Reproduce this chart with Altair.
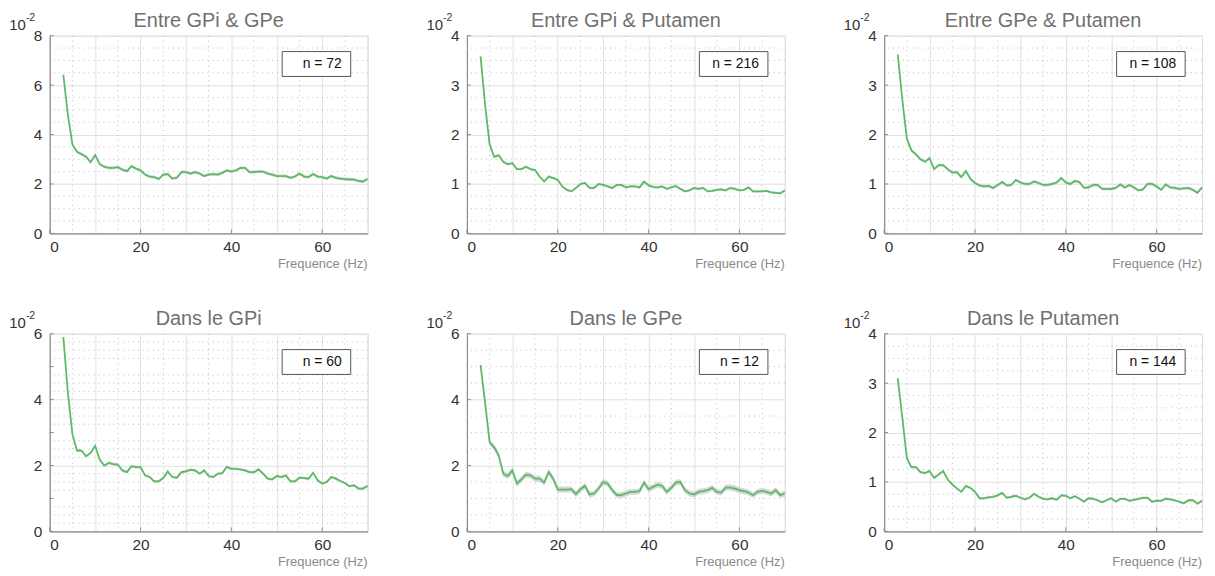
import altair as alt
import pandas as pd

FREQ = list(range(3, 71))

TITLES = ["Entre GPi & GPe", "Entre GPi & Putamen", "Entre GPe & Putamen",
          "Dans le GPi", "Dans le GPe", "Dans le Putamen"]
N_LABELS = ["n = 72", "n = 216", "n = 108", "n = 60", "n = 12", "n = 144"]
Y_MAX = [8, 4, 4, 6, 6, 4]
Y_STEP = [2, 1, 1, 1, 2, 1]
SEM = [0.06, 0.025, 0.03, 0.04, 0.09, 0.025]
X_LABELS = [0, 20, 40, 60]
X_MAJOR = [0, 10, 20, 30, 40, 50, 60, 70]
X_MINOR = [5, 15, 25, 35, 45, 55, 65]

P1 = [6.42, 4.8, 3.6, 3.3, 3.2, 3.1, 2.88, 3.17, 2.8, 2.7, 2.65, 2.65, 2.68, 2.58, 2.52, 2.72,
      2.62, 2.55, 2.38, 2.3, 2.28, 2.2, 2.38, 2.4, 2.22, 2.25, 2.48, 2.48, 2.42, 2.48, 2.42,
      2.32, 2.38, 2.4, 2.38, 2.45, 2.55, 2.5, 2.55, 2.65, 2.65, 2.48, 2.48, 2.5, 2.5, 2.42,
      2.38, 2.32, 2.32, 2.32, 2.25, 2.3, 2.42, 2.3, 2.28, 2.4, 2.3, 2.28, 2.22, 2.32, 2.25,
      2.22, 2.2, 2.18, 2.18, 2.12, 2.1, 2.2]
P2 = [3.58, 2.6, 1.8, 1.55, 1.58, 1.45, 1.4, 1.42, 1.3, 1.3, 1.35, 1.3, 1.28, 1.15, 1.05, 1.15,
      1.12, 1.08, 0.95, 0.88, 0.85, 0.92, 1.0, 1.02, 0.92, 0.92, 1.0, 0.98, 0.95, 0.92, 0.98,
      0.98, 0.93, 0.95, 0.95, 0.93, 1.05, 0.97, 0.94, 0.93, 0.95, 0.9, 0.93, 0.96, 0.9, 0.85,
      0.87, 0.92, 0.9, 0.92, 0.85, 0.86, 0.88, 0.89, 0.87, 0.92, 0.9, 0.87, 0.88, 0.93, 0.85,
      0.85, 0.85, 0.86, 0.83, 0.82, 0.81, 0.87]
P3 = [3.62, 2.7, 1.92, 1.68, 1.6, 1.5, 1.45, 1.52, 1.3, 1.38, 1.38, 1.3, 1.23, 1.24, 1.14, 1.26,
      1.1, 1.02, 0.97, 0.95, 0.96, 0.92, 0.98, 1.04, 0.97, 0.98, 1.08, 1.03, 1.0, 1.0, 1.05,
      1.02, 0.98, 0.98, 1.0, 1.03, 1.12, 1.03, 1.0, 1.06, 1.04, 0.92, 0.93, 0.98, 0.98, 0.9,
      0.9, 0.9, 0.92, 0.99, 0.93, 0.98, 0.93, 0.87, 0.89, 1.0, 1.0, 0.95, 0.88, 0.99, 0.93,
      0.92, 0.9, 0.91, 0.92, 0.88, 0.82, 0.93]
P4 = [5.9, 4.2, 2.95, 2.45, 2.45, 2.28, 2.38, 2.6, 2.18, 2.0, 2.08, 2.04, 2.03, 1.85, 1.8, 1.98,
      1.95, 1.95, 1.7, 1.65, 1.52, 1.52, 1.62, 1.82, 1.65, 1.63, 1.8, 1.82, 1.87, 1.85, 1.75,
      1.85, 1.68, 1.65, 1.75, 1.77, 1.96, 1.9, 1.9, 1.88, 1.85, 1.8, 1.8, 1.88, 1.75, 1.6,
      1.58, 1.68, 1.65, 1.7, 1.52, 1.52, 1.63, 1.62, 1.6, 1.78, 1.55, 1.45, 1.5, 1.65, 1.6,
      1.53, 1.47, 1.37, 1.4, 1.3, 1.3, 1.38]
P5 = [5.05, 3.9, 2.7, 2.55, 2.3, 1.75, 1.68, 1.85, 1.45, 1.58, 1.72, 1.7, 1.6, 1.6, 1.48, 1.8,
      1.6, 1.27, 1.27, 1.27, 1.28, 1.13, 1.28, 1.38, 1.12, 1.15, 1.3, 1.5, 1.45, 1.25, 1.1,
      1.1, 1.15, 1.2, 1.2, 1.22, 1.48, 1.28, 1.35, 1.42, 1.38, 1.2, 1.32, 1.48, 1.5, 1.25,
      1.15, 1.12, 1.2, 1.22, 1.25, 1.32, 1.2, 1.18, 1.33, 1.33, 1.3, 1.25, 1.22, 1.18, 1.1,
      1.2, 1.23, 1.2, 1.15, 1.25, 1.1, 1.15]
P6 = [3.1, 2.3, 1.48, 1.3, 1.3, 1.2, 1.18, 1.22, 1.08, 1.15, 1.22, 1.05, 0.95, 0.87, 0.8, 0.92,
      0.88, 0.8, 0.67, 0.67, 0.69, 0.7, 0.73, 0.78, 0.68, 0.7, 0.72, 0.68, 0.65, 0.68, 0.76,
      0.7, 0.66, 0.65, 0.67, 0.64, 0.73, 0.72, 0.67, 0.71, 0.66, 0.6, 0.67, 0.66, 0.63, 0.59,
      0.63, 0.67, 0.6, 0.66, 0.66, 0.62, 0.64, 0.66, 0.68, 0.68, 0.6, 0.62, 0.62, 0.66, 0.65,
      0.63, 0.6, 0.57, 0.63, 0.63, 0.56, 0.62]
SERIES = [P1, P2, P3, P4, P5, P6]

W, H = 320, 199
FONT = "Liberation Sans"
GREEN = "#5cba68"
GRID = "#e0e0e0"
MINOR = "#bdbdbd"
AXIS = "#8c8c8c"


def panel(i):
    ymax, step = Y_MAX[i], Y_STEP[i]
    minor = step / 4
    y_major = [k * step for k in range(int(ymax / step) + 1)]
    y_minor = [k * minor for k in range(1, int(round(ymax / minor))) if k % 4 != 0]

    df = pd.DataFrame({"f": FREQ, "v": SERIES[i]})
    df["lo"] = df["v"] - SEM[i]
    df["hi"] = df["v"] + SEM[i]

    xs = alt.Scale(domain=[0, 70], nice=False, zero=False)
    ys = alt.Scale(domain=[0, ymax], nice=False)

    x_axis = alt.Axis(values=X_MAJOR, labelExpr="datum.value % 20 == 0 ? datum.label : ''",
                      grid=True, gridColor=GRID, gridWidth=1, ticks=False,
                      domainColor=AXIS, domainWidth=1.2, labelFontSize=15.5, labelColor="#333333",
                      labelFont=FONT, labelPadding=6, title=None)
    y_axis = alt.Axis(values=y_major, grid=True, gridColor=GRID, gridWidth=1, ticks=False,
                      domainColor=AXIS, domainWidth=1.2, labelFontSize=15.5, labelColor="#333333",
                      labelFont=FONT, labelPadding=8, title=None)

    band = alt.Chart(df).mark_area(color="#bdbdbd", opacity=0.6).encode(
        x=alt.X("f:Q", scale=xs, axis=x_axis),
        y=alt.Y("lo:Q", scale=ys, axis=y_axis),
        y2="hi:Q",
    )
    line = alt.Chart(df).mark_line(color=GREEN, strokeWidth=1.8).encode(
        x=alt.X("f:Q", scale=xs), y=alt.Y("v:Q", scale=ys)
    )

    vminor = alt.Chart(pd.DataFrame({"x": X_MINOR})).mark_rule(
        color=MINOR, strokeDash=[1, 4], strokeWidth=1
    ).encode(x=alt.X("x:Q", scale=xs))
    hminor = alt.Chart(pd.DataFrame({"y": y_minor})).mark_rule(
        color=MINOR, strokeDash=[1, 4], strokeWidth=1
    ).encode(y=alt.Y("y:Q", scale=ys))

    xticks = alt.Chart(pd.DataFrame({"x": X_LABELS})).mark_rule(color=AXIS).encode(
        x=alt.X("x:Q", scale=xs), y=alt.value(H), y2=alt.value(H - 4)
    )
    yticks = alt.Chart(pd.DataFrame({"y": y_major})).mark_rule(color=AXIS).encode(
        y=alt.Y("y:Q", scale=ys), x=alt.value(0), x2=alt.value(4)
    )

    info = pd.DataFrame({"t": [TITLES[i]], "n": [N_LABELS[i]], "e": ["10"], "p": ["-2"],
                         "xl": ["Frequence (Hz)"]})
    title = alt.Chart(info).mark_text(align="center", baseline="alphabetic", fontSize=20,
                                      font=FONT, color="#707070").encode(
        x=alt.value(W / 2), y=alt.value(-9), text="t:N"
    )
    box = alt.Chart(info).mark_rect(fill="white", stroke="#555555", strokeWidth=1).encode(
        x=alt.value(W - 86), x2=alt.value(W - 17), y=alt.value(16), y2=alt.value(41)
    )
    ntext = alt.Chart(info).mark_text(align="right", baseline="middle", fontSize=14,
                                      font=FONT, color="#111111").encode(
        x=alt.value(W - 26), y=alt.value(29), text="n:N"
    )
    exp10 = alt.Chart(info).mark_text(align="right", baseline="middle", fontSize=15,
                                      font=FONT, color="#333333").encode(
        x=alt.value(-24), y=alt.value(-11), text="e:N"
    )
    expm2 = alt.Chart(info).mark_text(align="left", baseline="middle", fontSize=10.5,
                                      font=FONT, color="#333333").encode(
        x=alt.value(-24), y=alt.value(-18), text="p:N"
    )
    xlabel = alt.Chart(info).mark_text(align="right", baseline="middle", fontSize=13,
                                       font=FONT, color="#8a8a8a").encode(
        x=alt.value(W), y=alt.value(H + 31), text="xl:N"
    )

    return alt.layer(vminor, hminor, band, line, xticks, yticks, box, ntext,
                     exp10, expm2, xlabel, title).properties(width=W, height=H)


chart = alt.concat(*[panel(i) for i in range(6)], columns=3,
                   spacing={"row": 101, "column": 100}, bounds="flush").properties(
    padding={"left": 0, "top": 0, "right": 0, "bottom": 0}
).configure_view(stroke=None).configure(background="white")

chart.save("out.html", embed_options={"renderer": "svg", "actions": False})
